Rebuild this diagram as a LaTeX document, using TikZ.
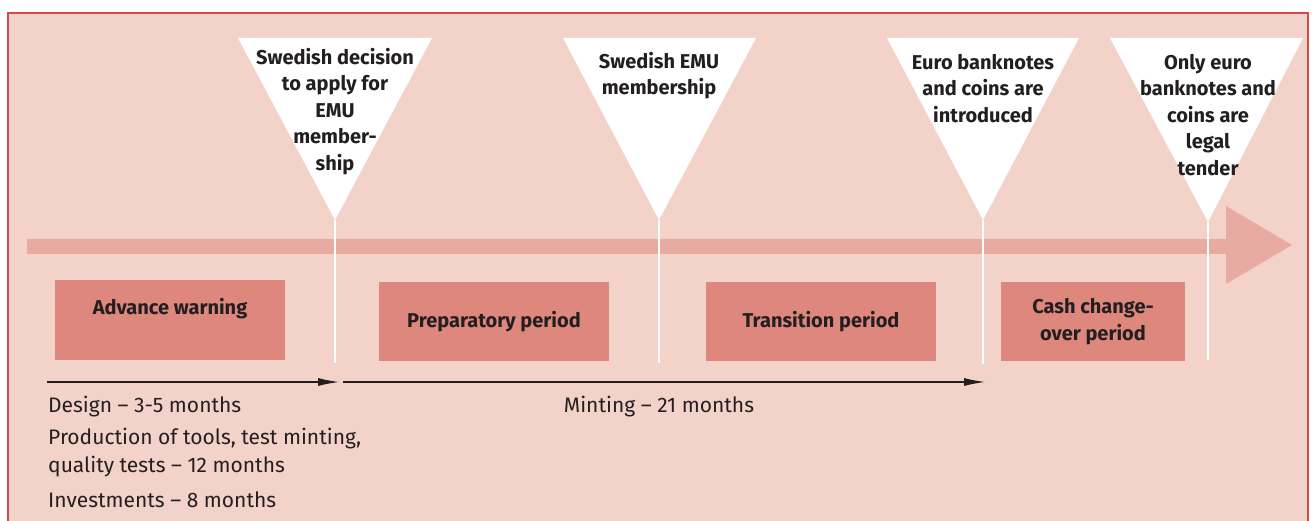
\documentclass[tikz,border=0pt]{standalone}
\usepackage{fontspec}
\setmainfont{Fira Sans}
\usetikzlibrary{arrows.meta}

\definecolor{framered}{HTML}{D4494A}
\definecolor{panelpink}{HTML}{F3D2CA}
\definecolor{barpink}{HTML}{E8ABA1}
\definecolor{boxpink}{HTML}{DE887D}
\definecolor{inkgray}{HTML}{231F20}

\tikzset{
  period/.style={fill=boxpink, minimum width=230pt, minimum height=79pt,
    inner sep=0pt, align=center, text=inkgray,
    font=\bfseries\fontsize{20}{27}\selectfont},
  milestone/.style={anchor=north, align=center, text=inkgray, inner sep=0pt,
    font=\bfseries\fontsize{20}{26.5}\selectfont},
  note/.style={anchor=west, align=left, text=inkgray, inner sep=0pt,
    font=\fontsize{21}{28}\selectfont},
  pin/.style={white, line width=2pt},
  span/.style={-{Latex[length=21pt,width=8pt]}, inkgray, line width=1.1pt}
}

\begin{document}
\begin{tikzpicture}[x=1pt, y=-1pt]
    \useasboundingbox (0,0) rectangle (1312,521);

    % Panel and its frame
    \fill[panelpink] (8,13) rectangle (1308,540);
    \draw[framered, line width=2.5pt] (8,13) rectangle (1308,540);

    % Time line
    \fill[barpink] (27,239) rectangle (1226,254);
    \fill[barpink] (1226,206) -- (1292,245) -- (1226,284) -- cycle;

    % Milestones: apex of each triangle and foot of its pin
    \coordinate (apply) at (335,220);
    \coordinate (member) at (659,220);
    \coordinate (intro) at (983,220);
    \coordinate (legal) at (1208,222);
    \coordinate (applyfoot) at (335,363);
    \coordinate (memberfoot) at (659,363);
    \coordinate (introfoot) at (983,364);
    \coordinate (legalfoot) at (1208,360);

    \fill[white] (238,38) -- (432,38) -- (apply) -- cycle;
    \fill[white] (563,38) -- (756,38) -- (member) -- cycle;
    \fill[white] (887,38) -- (1079,38) -- (intro) -- cycle;
    \fill[white] (1110,38) -- (1303,38) -- (legal) -- cycle;

    \draw[pin] (apply) -- (applyfoot);
    \draw[pin] (member) -- (memberfoot);
    \draw[pin] (intro) -- (introfoot);
    \draw[pin] (legal) -- (legalfoot);

    \node[milestone] (applytext) at (335,48) {Swedish decision\\to apply for\\EMU\\member-\\ship};
    \node[milestone] (membertext) at (659,52) {Swedish EMU\\membership};
    \node[milestone] (introtext) at (983,54) {Euro banknotes\\and coins are\\introduced};
    \node[milestone] (legaltext) at (1208,54) {Only euro\\banknotes and\\coins are\\legal\\tender};

    % Periods
    \node[period] (advance) at (170,320) {Advance warning\\\mbox{}};
    \node[period] (prep) at (494,321.5) {Preparatory period};
    \node[period] (trans) at (821,321.5) {Transition period};
    \node[period, minimum width=184pt] (cash) at (1093,321.5) {Cash change-\\over period};

    % Coin production
    \coordinate (designstart) at (47,382);
    \coordinate (designend) at (339,382);
    \coordinate (mintstart) at (343,382);
    \coordinate (mintend) at (985,382);
    \draw[span] (designstart) -- (designend);
    \draw[span] (mintstart) -- (mintend);

    \node[note] (design) at (48,407) {Design -- 3-5 months};
    \node[note] (tools) at (48,453) {Production of tools, test minting,\\quality tests -- 12 months};
    \node[note] (invest) at (48,500) {Investments -- 8 months};
    \node[note, anchor=center] (minting) at (659,407) {Minting -- 21 months};
\end{tikzpicture}
\end{document}
